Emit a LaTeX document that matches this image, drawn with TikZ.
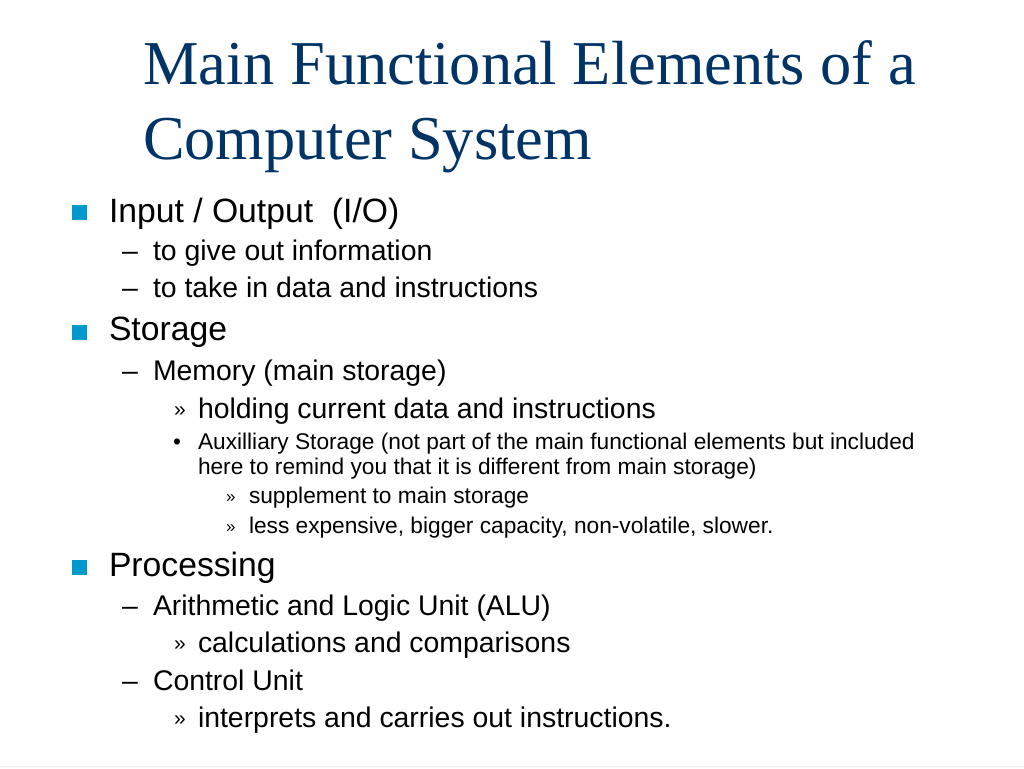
\documentclass[tikz,border=0pt]{standalone}
\usepackage{fontspec}
\setmainfont{Liberation Sans}
\newfontfamily\titlefont{Liberation Serif}
\definecolor{titleblue}{RGB}{0,51,102}
\definecolor{markblue}{RGB}{0,153,204}
\tikzset{
  txt/.style={anchor=base west,inner sep=0pt,outer sep=0pt},
  lvlzero/.style={txt,text=titleblue,font=\titlefont\fontsize{62.4}{75}\selectfont},
  lvlone/.style={txt,font=\fontsize{33.7}{40}\selectfont},
  lvltwo/.style={txt,font=\fontsize{28.4}{34}\selectfont},
  lvlfour/.style={txt,font=\fontsize{22.7}{27}\selectfont},
  chevbig/.style={txt,font=\fontsize{21}{25}\selectfont},
  chevsmall/.style={txt,font=\fontsize{17}{20}\selectfont},
  sqmark/.style={shape=rectangle,fill=markblue,minimum size=15pt,inner sep=0pt}
}
\begin{document}
\begin{tikzpicture}[x=1pt,y=-1pt]
      \useasboundingbox (0,0) rectangle (1024,768);
      \draw[draw=none]
        (143, 84) node[lvlzero] (t1){Main Functional Elements of a}
        (143, 159) node[lvlzero] (t2){Computer System};
      \draw[draw=none]
        (79.5, 212) node[sqmark] (s1){}
        (109, 222) node[lvlone] (a1){Input / Output\ \ (I/O)}
        (122, 260) node[lvltwo] (d1){–}
        (153, 260) node[lvltwo] (a2){to give out information}
        (122, 297) node[lvltwo] (d2){–}
        (153, 297) node[lvltwo] (a3){to take in data and instructions}
        (79.5, 332) node[sqmark] (s2){}
        (109, 340) node[lvlone] (a4){Storage}
        (122, 380) node[lvltwo] (d3){–}
        (153, 380) node[lvltwo] (a5){Memory (main storage)}
        (174, 416) node[chevbig] (r1){»}
        (198, 418) node[lvltwo] (a6){holding current data and instructions}
        (173, 449) node[lvlfour] (p1){•}
        (198, 449) node[lvlfour] (a7){Auxilliary Storage (not part of the main functional elements but included}
        (198, 474) node[lvlfour] (a8){here to remind you that it is different from main storage)}
        (226, 502) node[chevsmall] (r2){»}
        (249, 503) node[lvlfour] (a9){supplement to main storage}
        (226, 532) node[chevsmall] (r3){»}
        (249, 533) node[lvlfour] (a10){less expensive, bigger capacity, non-volatile, slower.}
        (79.5, 567) node[sqmark] (s3){}
        (109, 576) node[lvlone] (a11){Processing}
        (122, 615) node[lvltwo] (d4){–}
        (153, 615) node[lvltwo] (a12){Arithmetic and Logic Unit (ALU)}
        (174, 650) node[chevbig] (r4){»}
        (198, 652) node[lvltwo] (a13){calculations and comparisons}
        (122, 690) node[lvltwo] (d5){–}
        (153, 690) node[lvltwo] (a14){Control Unit}
        (174, 725) node[chevbig] (r5){»}
        (198, 727) node[lvltwo] (a15){interprets and carries out instructions.};
      \coordinate (f0) at (0, 766);
      \coordinate (f1) at (1024, 766);
      \draw[black!8, line width=1pt] (f0) -- (f1);
    \end{tikzpicture}
\end{document}
